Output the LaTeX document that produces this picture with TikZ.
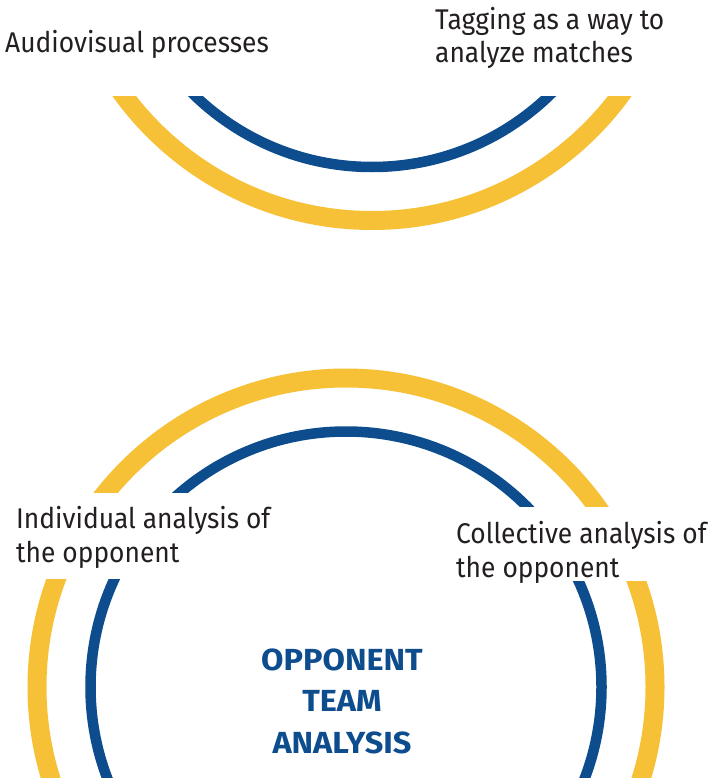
\documentclass[tikz,border=0pt]{standalone}
\usepackage{fontspec}
\setmainfont{Fira Sans}
\newfontfamily\lblfont{Fira Sans}[FakeStretch=0.925]
\newfontfamily\ttlfont{Fira Sans}[FakeStretch=1.065]
\definecolor{ygold}{HTML}{F6C137}
\definecolor{dblue}{HTML}{0D4C8D}
\definecolor{txt}{HTML}{231F20}
\begin{document}
\begin{tikzpicture}[x=1pt,y=-1pt,
  goldring/.style={draw=ygold,line width=19pt},
  bluering/.style={draw=dblue,line width=10.5pt},
  lbl/.style={inner sep=0pt,anchor=base west,align=left,text=txt,
    font={\lblfont\fontsize{28.5}{33.5}\selectfont}},
  title/.style={inner sep=0pt,anchor=base,text=dblue,
    font={\ttlfont\bfseries\fontsize{30.5}{41.5}\selectfont}}]
\useasboundingbox (0,0) rectangle (708,778);
% top rings
\begin{scope}
  \clip (0,97) rectangle (708,778);
  \draw[goldring] (372,-88.5) circle[radius=309pt];
  \draw[bluering] (372,-88.5) circle[radius=255.5pt];
\end{scope}
% bottom rings
\begin{scope}
  \clip (0,0) rectangle (708,778);
  \draw[goldring] (346,687) circle[radius=309pt];
  \draw[bluering] (346,687) circle[radius=255.5pt];
\end{scope}
% white panels behind labels
\fill[white] (0,493) rectangle (285,579);
\fill[white] (446,507) rectangle (708,581);
% labels (base anchor = baseline of the last line)
\node[lbl] (av) at (5,53) {Audiovisual processes};
\node[lbl] (tag) at (435,63) {Tagging as a way to\\analyze matches};
\node[lbl] (ind) at (16,562) {Individual analysis of\\the opponent};
\node[lbl] (col) at (456,577) {Collective analysis of\\the opponent};
\node[title] (t1) at (342,670) {OPPONENT};
\node[title] (t2) at (342,711.5) {TEAM};
\node[title] (t3) at (342,753) {ANALYSIS};
\end{tikzpicture}
\end{document}
